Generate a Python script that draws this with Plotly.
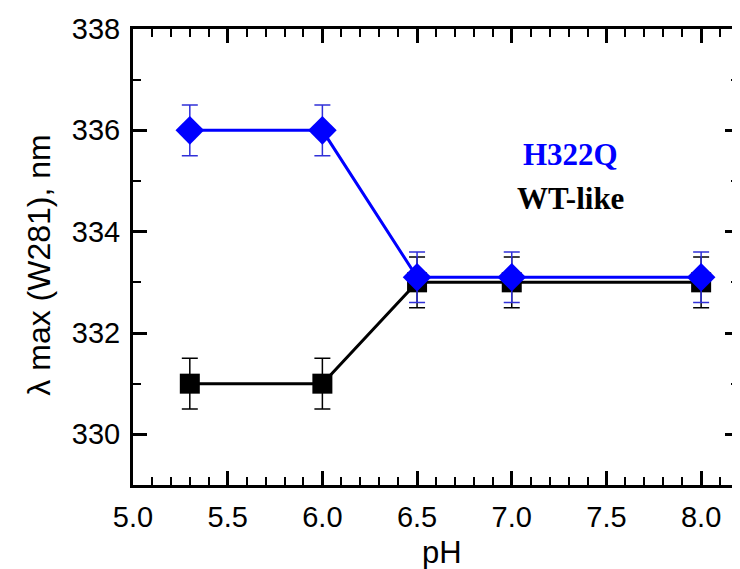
import plotly.graph_objects as go

ph = [5.3, 6.0, 6.5, 7.0, 8.0]
h322q = [336.0, 336.0, 333.1, 333.1, 333.1]
h322q_err = [0.5, 0.5, 0.5, 0.5, 0.5]
wt_like = [331.0, 331.0, 333.0, 333.0, 333.0]
wt_err = [0.5, 0.5, 0.5, 0.5, 0.5]

fig = go.Figure()
fig.add_trace(go.Scatter(
    x=ph, y=wt_like, mode="lines+markers", name="WT-like",
    line=dict(color="black", width=3),
    marker=dict(symbol="square", size=20, color="black"),
    error_y=dict(type="data", array=wt_err, color="black", thickness=1.5, width=8),
))
fig.add_trace(go.Scatter(
    x=ph, y=h322q, mode="lines+markers", name="H322Q",
    line=dict(color="#0000ff", width=3),
    marker=dict(symbol="diamond", size=22, color="#0000ff"),
    error_y=dict(type="data", array=h322q_err, color="#3030d8", thickness=1.5, width=8),
))

fig.add_annotation(x=7.31, y=335.52, text="<b>H322Q</b>", showarrow=False,
                   font=dict(family="Liberation Serif", size=31, color="#0000ff"))
fig.add_annotation(x=7.31, y=334.66, text="<b>WT-like</b>", showarrow=False,
                   font=dict(family="Liberation Serif", size=31, color="black"))

# axis titles
fig.add_annotation(xref="paper", yref="paper", x=0.51, y=0, yanchor="middle",
                   yshift=-67, text="pH", showarrow=False,
                   font=dict(family="Liberation Sans", size=31, color="black"))
fig.add_annotation(xref="paper", yref="paper", x=0, y=0.481, xanchor="center",
                   xshift=-94, textangle=-90, text="λ max (W281), nm", showarrow=False,
                   font=dict(family="Liberation Sans", size=32, color="black"))

axis_common = dict(
    showline=True, linecolor="black", linewidth=3, mirror="allticks",
    ticks="inside", ticklen=14, tickwidth=2.5, tickcolor="black",
    showgrid=False, zeroline=False, automargin=False,
    tickfont=dict(family="Liberation Sans", size=29, color="black"),
)
fig.update_xaxes(range=[5.0, 8.2], dtick=0.5, tick0=5.0, tickformat=".1f",
                 minor=dict(dtick=0.1, ticks="inside", ticklen=8, tickwidth=2, tickcolor="black"),
                 ticklabelstandoff=4,
                 **axis_common)
fig.update_yaxes(range=[329, 338], dtick=2, tick0=330,
                 minor=dict(dtick=1, ticks="inside", ticklen=8, tickwidth=2, tickcolor="black"),
                 ticklabelstandoff=4,
                 **axis_common)

fig.update_layout(
    width=740, height=569,
    margin=dict(l=125, r=9, t=21, b=92),
    plot_bgcolor="white", paper_bgcolor="white",
    showlegend=False,
)
fig.write_html("out.html")
